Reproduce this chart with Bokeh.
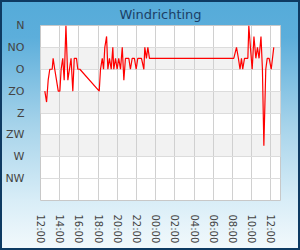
from bokeh.plotting import figure
from bokeh.models import Range1d, FixedTicker, BoxAnnotation
from bokeh.embed import file_html
from bokeh.resources import INLINE

title_text = "Windrichting"

# observation times (local) and wind direction in degrees
times = ["12:27", "12:38", "12:48", "12:58", "13:13", "13:19", "13:29", "13:40", "13:51",
         "14:01", "14:09", "14:19", "14:28", "14:39", "14:51", "15:01", "15:11", "15:22",
         "15:31", "15:45", "15:53", "16:06", "18:07", "18:15", "18:26", "18:34", "18:42",
         "18:53", "19:01", "19:11", "19:22", "19:32", "19:38", "19:49", "19:59", "20:09",
         "20:20", "20:31", "20:41", "20:51", "21:12", "21:22", "21:33", "21:47", "21:58",
         "22:08", "22:31", "22:46", "22:52", "23:02", "23:11", "23:21", "08:08", "08:25",
         "08:37", "08:47", "08:56", "09:04", "09:15", "09:36", "09:42", "09:52", "10:03",
         "10:14", "10:26", "10:36", "10:46", "10:58", "11:07", "11:16", "11:28", "11:37",
         "11:49", "12:02", "12:18"]
directions = [135, 157.5, 112.5, 90, 90, 67.5, 90, 112.5, 135,
              135, 90, 67.5, 112.5, 0, 112.5, 90, 67.5, 135,
              67.5, 67.5, 90, 90, 135, 90, 67.5, 90, 45,
              22.5, 90, 67.5, 90, 45, 90, 67.5, 90, 67.5,
              90, 45, 112.5, 67.5, 67.5, 90, 67.5, 67.5, 90,
              67.5, 67.5, 90, 45, 67.5, 45, 67.5, 67.5, 45,
              67.5, 90, 67.5, 90, 67.5, 67.5, 0, 45, 90,
              22.5, 67.5, 45, 67.5, 22.5, 90, 247.5, 90, 67.5,
              67.5, 90, 45]

y_ticks = [0, 45, 90, 135, 180, 225, 270, 315]
y_tick_labels = ["N", "NO", "O", "ZO", "Z", "ZW", "W", "NW"]
x_ticks = [0, 2, 4, 6, 8, 10, 12, 14, 16, 18, 20, 22, 24]
x_tick_labels = ["12:00", "14:00", "16:00", "18:00", "20:00", "22:00", "00:00",
                 "02:00", "04:00", "06:00", "08:00", "10:00", "12:00"]
# shaded bands (degrees)
band_bottoms = [45, 135, 225]
band_tops = [90, 180, 270]

# hours since 12:00 on the first day
hours = []
prev = -1.0
offset = 0.0
for t in times:
    hh, mm = map(int, t.split(":"))
    v = hh + mm / 60.0
    if v < prev:
        offset += 24.0
    prev = v
    hours.append(v + offset - 12.0)

FONT = "DejaVu Sans"

p = figure(width=300, height=250, output_backend="svg", toolbar_location=None,
           x_range=Range1d(0, 25), y_range=Range1d(360, 0),
           min_border_left=40, min_border_right=20, min_border_top=25, min_border_bottom=50)

p.title.text = title_text
p.title.align = "center"
p.title.text_font = FONT
p.title.text_font_size = "13px"
p.title.text_font_style = "normal"
p.title.text_color = "#1c3f66"
p.title.standoff = 8

p.border_fill_color = None
p.background_fill_color = "white"
p.outline_line_color = "#c8c8c8"
p.outline_line_width = 1
p.styles = {"background": "linear-gradient(to bottom, #55abd9 0%, #5caedb 15%, #a6d3ea 50%, #d8edf7 80%, #f3f9fc 100%)",
            "box-shadow": "inset 0 0 0 2px #0e3a62"}

for b, t in zip(band_bottoms, band_tops):
    p.add_layout(BoxAnnotation(bottom=b, top=t, fill_color="#f2f2f2", fill_alpha=1.0,
                               line_color=None, level="image"))

# axes
p.xaxis.ticker = FixedTicker(ticks=x_ticks)
p.xaxis.major_label_overrides = {t: l for t, l in zip(x_ticks, x_tick_labels)}
p.xaxis.major_label_orientation = "vertical"
p.xaxis.axis_line_color = None
p.xaxis.major_tick_line_color = None
p.xaxis.minor_tick_line_color = None
p.xaxis.major_label_standoff = 8
p.xaxis.major_label_text_font = FONT
p.xaxis.major_label_text_font_size = "10px"
p.xaxis.major_label_text_color = "#444444"

p.yaxis.ticker = FixedTicker(ticks=y_ticks)
p.yaxis.major_label_overrides = {t: l for t, l in zip(y_ticks, y_tick_labels)}
p.yaxis.axis_line_color = None
p.yaxis.major_tick_line_color = None
p.yaxis.minor_tick_line_color = None
p.yaxis.major_label_standoff = 10
p.yaxis.major_label_text_font = FONT
p.yaxis.major_label_text_font_size = "11px"
p.yaxis.major_label_text_color = "#444444"

p.xgrid.ticker = FixedTicker(ticks=x_ticks)
p.xgrid.grid_line_color = "#d0d0d0"
p.xgrid.level = "underlay"
p.ygrid.ticker = FixedTicker(ticks=y_ticks)
p.ygrid.grid_line_color = "#dcdcdc"
p.ygrid.level = "underlay"

p.line(hours, directions, line_color="#ff0000", line_width=1.2)

open("out.html", "w").write(file_html(p, INLINE))
